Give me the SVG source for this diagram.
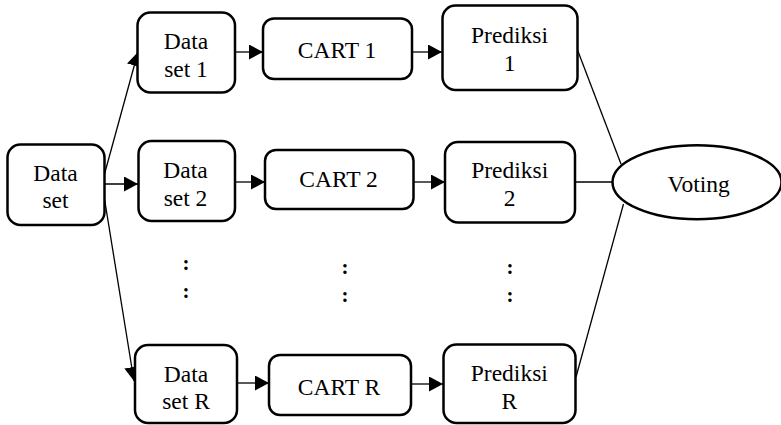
<svg xmlns="http://www.w3.org/2000/svg" width="781" height="425" viewBox="0 0 781 425">
  <style>
    .box { fill: #ffffff; stroke: #000000; stroke-width: 2.5; }
    text { font-family: "Liberation Serif", "Times New Roman", serif; fill: #000000; text-anchor: middle; }
    .lbl { font-size: 23.5px; }
    .dots { font-size: 21px; font-weight: bold; }
    .edge { fill: none; stroke: #000000; stroke-width: 1.3; }
    .arrow { marker-end: url(#head); }
  </style>
  <defs>
    <marker id="head" markerUnits="userSpaceOnUse" markerWidth="15" markerHeight="16" refX="14" refY="7.5" orient="auto">
      <path d="M0,0 L14,7.5 L0,15 Z" fill="#000000"/>
    </marker>
  </defs>

  <!-- connectors -->
  <g id="connectors">
    <line class="edge arrow" x1="104.5" y1="174" x2="138" y2="52"/>
    <line class="edge arrow" x1="104.5" y1="184" x2="138" y2="184"/>
    <line class="edge arrow" x1="104.5" y1="199" x2="134" y2="381"/>

    <line class="edge arrow" x1="235" y1="52" x2="263" y2="52"/>
    <line class="edge arrow" x1="235" y1="182" x2="265" y2="182"/>
    <line class="edge arrow" x1="237" y1="383" x2="269" y2="383"/>

    <line class="edge arrow" x1="412" y1="52" x2="442" y2="52"/>
    <line class="edge arrow" x1="413" y1="182" x2="445" y2="182"/>
    <line class="edge arrow" x1="411" y1="384" x2="443" y2="384"/>

    <line class="edge" x1="577.5" y1="50" x2="621" y2="164"/>
    <line class="edge" x1="575" y1="182" x2="612.5" y2="182"/>
    <line class="edge" x1="576" y1="377" x2="623.5" y2="204"/>
  </g>

  <!-- source data -->
  <g id="data-set">
    <rect class="box" x="7.5" y="144.5" width="97" height="80.5" rx="13"/>
    <text class="lbl" x="55.5" y="181">Data</text>
    <text class="lbl" x="55.5" y="208.3">set</text>
  </g>

  <!-- bootstrap samples -->
  <g id="data-set-1">
    <rect class="box" x="137.5" y="12.5" width="97.5" height="80" rx="13"/>
    <text class="lbl" x="186" y="49.3">Data</text>
    <text class="lbl" x="186" y="76.7">set 1</text>
  </g>
  <g id="data-set-2">
    <rect class="box" x="138.5" y="141" width="96.5" height="80" rx="13"/>
    <text class="lbl" x="185.5" y="178.3">Data</text>
    <text class="lbl" x="185.5" y="205.7">set 2</text>
  </g>
  <g id="data-set-r">
    <rect class="box" x="135" y="345" width="102" height="78" rx="13"/>
    <text class="lbl" x="186" y="382.3">Data</text>
    <text class="lbl" x="186" y="409">set R</text>
  </g>

  <!-- trees -->
  <g id="cart-1">
    <rect class="box" x="263" y="18.5" width="149" height="60.5" rx="11"/>
    <text class="lbl" x="337" y="58.3">CART 1</text>
  </g>
  <g id="cart-2">
    <rect class="box" x="265" y="150" width="148.5" height="59" rx="11"/>
    <text class="lbl" x="338.5" y="187.3">CART 2</text>
  </g>
  <g id="cart-r">
    <rect class="box" x="269" y="355" width="142" height="60" rx="11"/>
    <text class="lbl" x="339" y="395">CART R</text>
  </g>

  <!-- predictions -->
  <g id="prediksi-1">
    <rect class="box" x="442.5" y="5.5" width="135" height="84.5" rx="13"/>
    <text class="lbl" x="509.5" y="43.3">Prediksi</text>
    <text class="lbl" x="509.5" y="70.7">1</text>
  </g>
  <g id="prediksi-2">
    <rect class="box" x="445" y="142" width="130" height="80.5" rx="13"/>
    <text class="lbl" x="509.7" y="178.3">Prediksi</text>
    <text class="lbl" x="509.7" y="205.7">2</text>
  </g>
  <g id="prediksi-r">
    <rect class="box" x="443.5" y="344.5" width="132" height="78.5" rx="13"/>
    <text class="lbl" x="509.3" y="380.7">Prediksi</text>
    <text class="lbl" x="509.3" y="409">R</text>
  </g>

  <!-- aggregation -->
  <g id="voting">
    <ellipse class="box" cx="697" cy="182.2" rx="84.5" ry="37"/>
    <text class="lbl" x="698.7" y="191.7">Voting</text>
  </g>

  <!-- elided rows -->
  <g id="ellipsis">
    <text class="dots" x="186" y="270.3">:</text>
    <text class="dots" x="186" y="298.3">:</text>
    <text class="dots" x="345" y="274">:</text>
    <text class="dots" x="345" y="302">:</text>
    <text class="dots" x="510" y="274">:</text>
    <text class="dots" x="510" y="302">:</text>
  </g>
</svg>
